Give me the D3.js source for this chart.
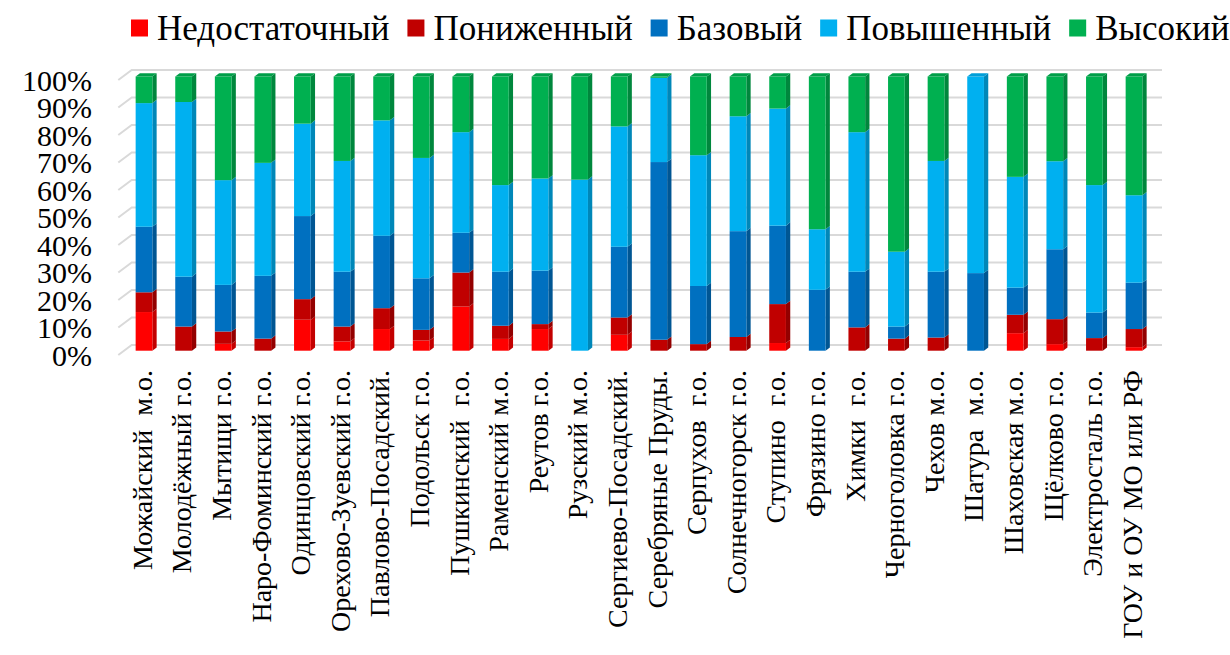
<!DOCTYPE html>
<html><head><meta charset="utf-8">
<script src="https://cdn.jsdelivr.net/npm/d3@7"></script>
<style>body{margin:0;background:#fff}svg{display:block}
text{font-family:"Liberation Serif","Times New Roman","DejaVu Serif",serif;}</style>
</head><body>
<svg id="chart" width="1230" height="655"></svg>
<script>
const categories = ["Можайский  м.о.","Молодёжный г.о.","Мытищи г.о.","Наро-Фоминский г.о.","Одинцовский г.о.","Орехово-Зуевский г.о.","Павлово-Посадский.","Подольск г.о.","Пушкинский  г.о.","Раменский м.о.","Реутов г.о.","Рузский м.о.","Сергиево-Посадский.","Серебряные Пруды.","Серпухов  г.о.","Солнечногорск г.о.","Ступино  г.о.","Фрязино г.о.","Химки  г.о.","Черноголовка г.о.","Чехов м.о.","Шатура  м.о.","Шаховская м.о.","Щёлково г.о.","Электросталь г.о.","ГОУ и ОУ МО или РФ"];
const seriesNames = ["Недостаточный","Пониженный","Базовый","Повышенный","Высокий"];
const nedostatochny = [14.1,0,2.5,0,11.3,3.4,7.9,3.7,16.1,4.3,7.9,0,5.8,0,0,0,2.8,0,0,0,0,0,6.4,2.4,0,1.3];
const ponizhenny    = [7.2,8.8,4.5,4.4,7.5,5.4,7.6,3.9,12.4,4.8,1.8,0,6.3,4.0,2.4,5.0,14.2,0,8.5,4.4,4.8,0,6.7,9.1,4.6,6.6];
const bazovy        = [23.9,18.2,17,22.9,30.3,20,26.4,18.8,14.5,19.7,19.5,0,25.8,64.8,21.2,38.6,28.6,22.2,20.3,4.4,24,28.3,9.9,25.5,9.3,16.9];
const povyshenny    = [45.1,63.7,38.2,41.2,33.7,40.4,42.1,43.9,36.7,31.6,33.6,62.4,43.9,30.7,47.7,41.9,42.7,22.1,50.9,27.3,40.4,71.7,40.4,32.1,46.5,31.9];
const vysoky        = [9.7,9.3,37.8,31.5,17.2,30.8,16.0,29.7,20.3,39.6,37.2,37.6,18.2,0.5,28.7,14.5,11.7,55.7,20.3,63.9,30.8,0,36.6,30.9,39.6,43.3];
const yTicks = [0,10,20,30,40,50,60,70,80,90,100];
const colors = ["#FF0000","#C00000","#0070C0","#00B0F0","#00B050"];

const seriesArrays = [nedostatochny, ponizhenny, bazovy, povyshenny, vysoky];
const table = categories.map((c,i)=>{const o={cat:c}; seriesNames.forEach((s,k)=>o[s]=seriesArrays[k][i]); return o;});
const stack = d3.stack().keys(seriesNames)(table);

const svg = d3.select("#chart");

// geometry
const x = d3.scalePoint().domain(categories).range([124.2,1153.8]).padding(0.5);
const yFront = d3.scaleLinear().domain([0,100]).range([350.7,76.5]);
const yBack = d3.scaleLinear().domain([0,100]).range([345,70]);
const barW = 16.7, dx = 4.3, dy = 3.3;
const wallLeft = 131.7, wallRight = 1162, sideDx = 13.4, sideDy = 10;

// gridlines (back wall + side wall)
const grid = svg.append("g");
yTicks.forEach(t=>{
  const yb = yBack(t);
  grid.append("path")
    .attr("d", `M${wallLeft-sideDx},${yb+sideDy}L${wallLeft},${yb}L${wallRight},${yb}`)
    .attr("fill","none").attr("stroke","#d9d9d9").attr("stroke-width",2);
});

// y labels
svg.append("g").selectAll("text").data(yTicks).join("text")
  .attr("x", 92).attr("y", d=>yBack(d)+sideDy).attr("dy","0.35em")
  .attr("text-anchor","end").attr("font-size",30)
  .text(d=>d+"%");

// bars
const bars = svg.append("g");
categories.forEach((c,i)=>{
  const g = bars.append("g");
  const x0 = x(c) - barW/2;
  let topIdx = -1;
  stack.forEach((s,k)=>{ if (s[i][1]-s[i][0] > 0) topIdx = k; });
  stack.forEach((s,k)=>{
    const v0 = s[i][0], v1 = s[i][1];
    if (v1 - v0 <= 0) return;
    const y0 = yFront(v0), y1 = yFront(v1);
    const col = d3.color(colors[k]);
    g.append("path")
      .attr("d", `M${x0+barW},${y0}L${x0+barW+dx},${y0-dy}L${x0+barW+dx},${y1-dy}L${x0+barW},${y1}Z`)
      .attr("fill", col.darker(0.75));
    g.append("rect").attr("x",x0).attr("y",y1).attr("width",barW).attr("height",y0-y1).attr("fill",colors[k]);
    if (k === topIdx) {
      g.append("path")
        .attr("d", `M${x0},${y1}L${x0+dx},${y1-dy}L${x0+barW+dx},${y1-dy}L${x0+barW},${y1}Z`)
        .attr("fill", col.darker(0.3));
    }
  });
});

// x labels
svg.append("g").selectAll("text").data(categories).join("text")
  .attr("transform", d=>`translate(${x(d)-2},370) rotate(-90)`)
  .attr("dy","0.35em").attr("text-anchor","end")
  .attr("font-size",28)
  .style("white-space","pre")
  .text(d=>d);

// legend
const legend = svg.append("g");
let lx = 131;
seriesNames.forEach((s,k)=>{
  legend.append("rect").attr("x",lx).attr("y",19.5).attr("width",17).attr("height",17).attr("fill",colors[k]);
  const t = legend.append("text").attr("x",lx+26).attr("y",40).attr("font-size",35).text(s);
  lx += 26 + t.node().getComputedTextLength() + 18;
});
</script>
</body></html>
